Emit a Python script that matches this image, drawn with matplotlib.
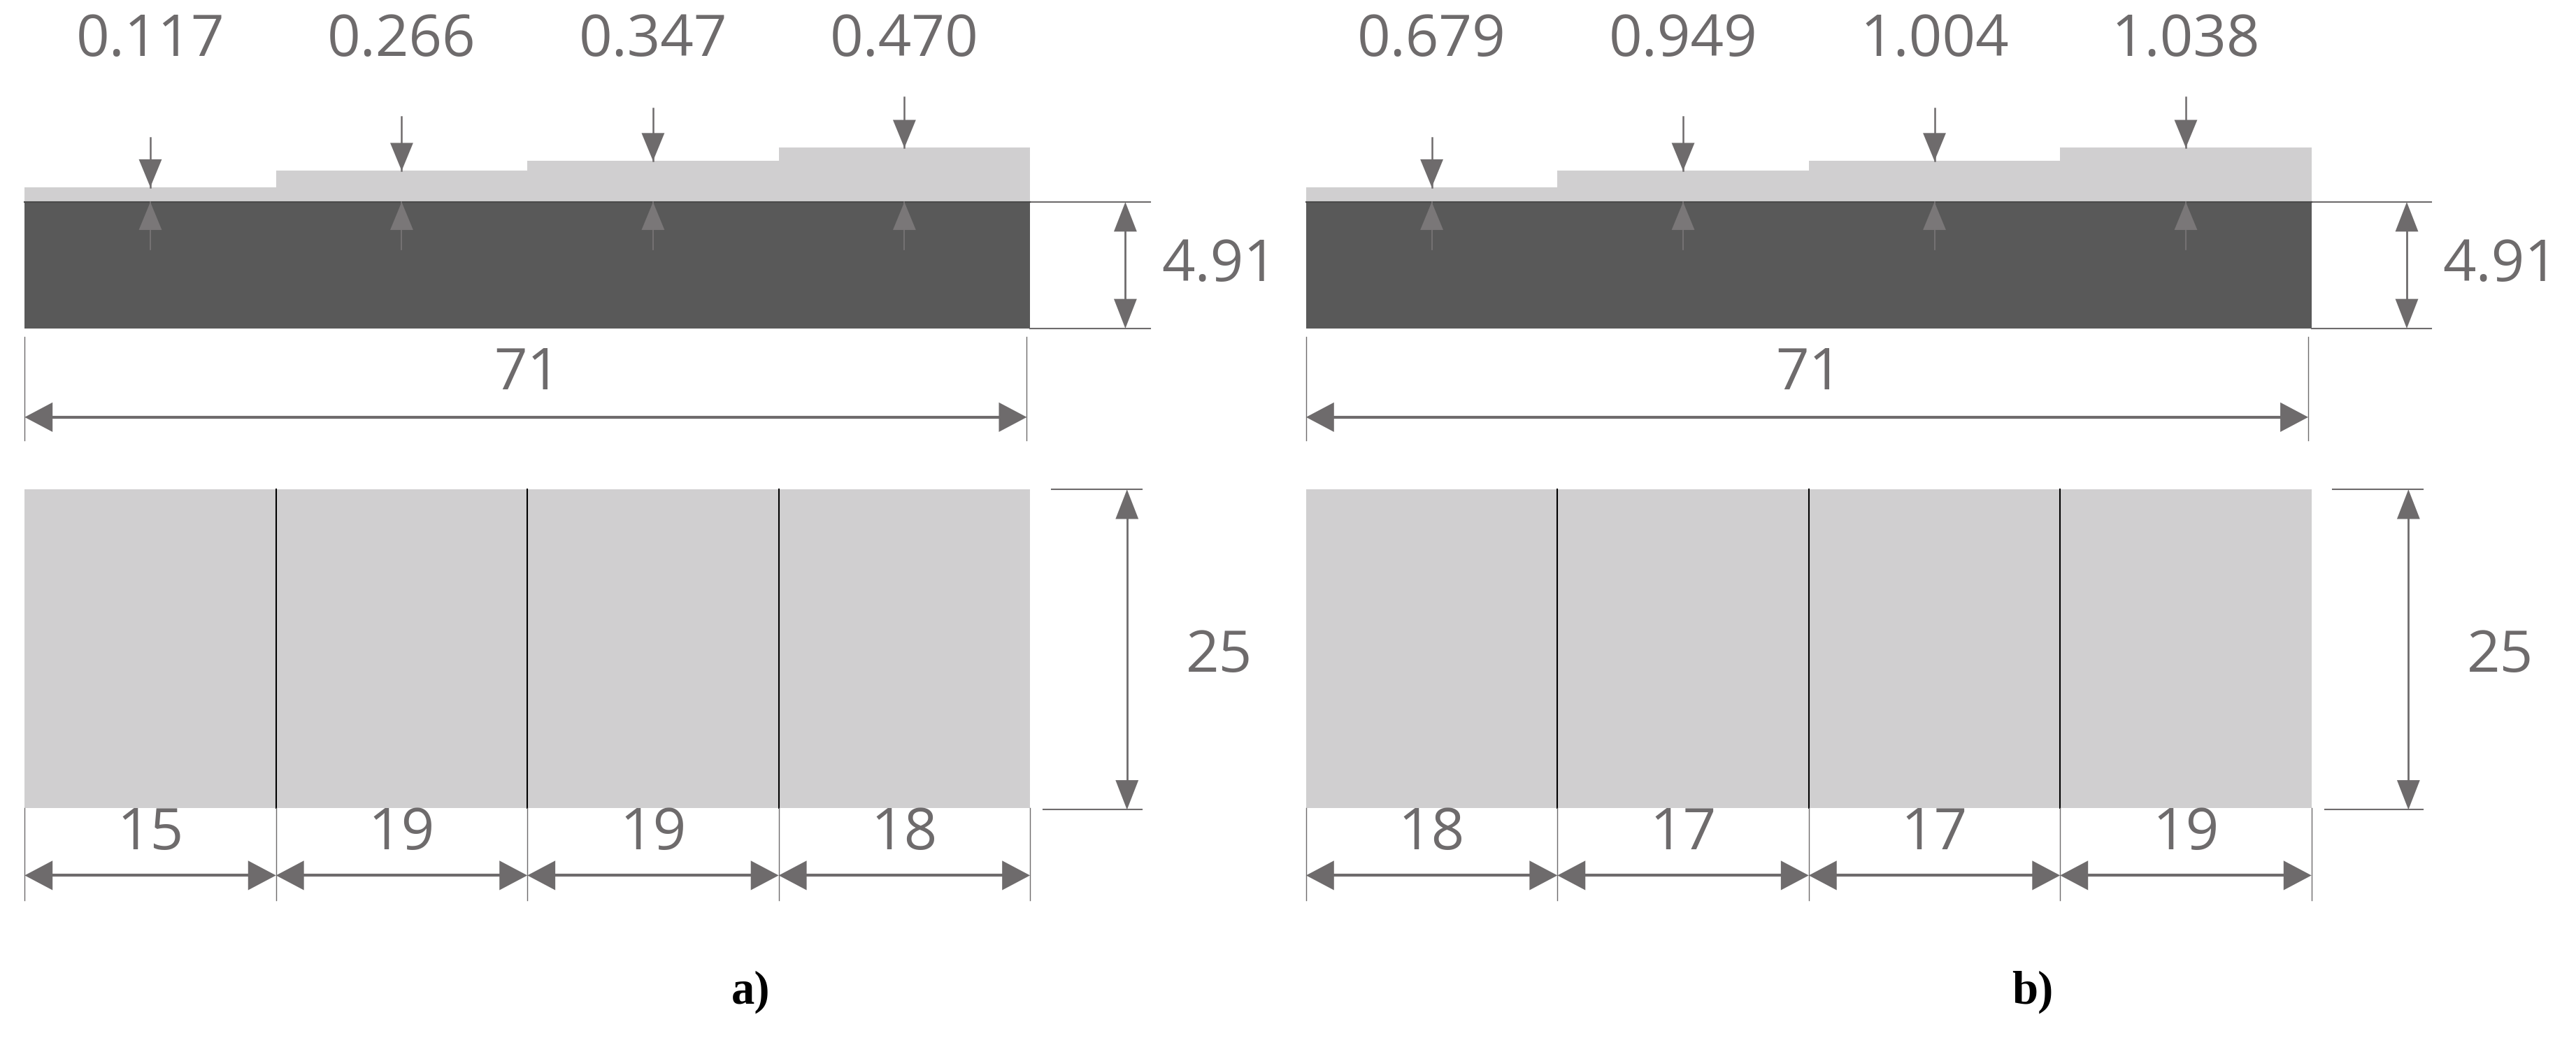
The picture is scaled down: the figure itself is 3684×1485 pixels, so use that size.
import matplotlib
matplotlib.use("Agg")
import matplotlib.pyplot as plt
from matplotlib.patches import Rectangle, Polygon

# ---- data ----
panels = ["a)", "b)"]
thickness_a = [0.117, 0.266, 0.347, 0.470]
thickness_b = [0.679, 0.949, 1.004, 1.038]
widths_a = [15, 19, 19, 18]
widths_b = [18, 17, 17, 19]
total_length = 71
substrate_h = 4.91
specimen_w = 25

GRAY = "#6e6b6c"
UPGRAY = "#7a7778"
DARK = "#595959"
LIGHT = "#d0cfd0"
FONT = "Open Sans"
FS = 60

fig = plt.figure(figsize=(36.84, 14.85), dpi=100)
ax = fig.add_axes([0, 0, 1, 1])
ax.set_xlim(0, 1568)
ax.set_ylim(632, 0)
ax.axis("off")

step_tops = [114, 104, 98, 90]
arrow_starts = [84, 71, 66, 59]

def head(x, y, d, L=14, W=7, horiz=False, color=GRAY):
    if horiz:
        pts = [(x, y), (x - d*L, y - W), (x - d*L, y + W)]
    else:
        pts = [(x, y), (x - W, y - d*L), (x + W, y - d*L)]
    ax.add_patch(Polygon(pts, closed=True, color=color, lw=0, zorder=5))

def hdim(x0, x1, y, lw=3):
    ax.plot([x0 + 6, x1 - 6], [y, y], color=GRAY, lw=lw, zorder=4)
    head(x0, y, -1, horiz=True, L=17, W=9)
    head(x1, y, 1, horiz=True, L=17, W=9)

def vdim(x, y0, y1):
    ax.plot([x, x], [y0 + 6, y1 - 6], color=GRAY, lw=2, zorder=4)
    head(x, y0, -1, L=18, W=7)
    head(x, y1, 1, L=18, W=7)

def panel(ox, thick, widths, label):
    n = len(thick)
    L = 612.0
    seg = L / n
    x0 = ox + 15
    for i, t in enumerate(thick):
        ax.add_patch(Rectangle((x0 + i*seg, step_tops[i]), seg, 123 - step_tops[i],
                               color=LIGHT, lw=0, zorder=1))
    ax.add_patch(Rectangle((x0, 123), L, 77, color=DARK, lw=0, zorder=2))
    ax.plot([x0, x0 + L], [123, 123], color="#4a4a4a", lw=1.5, zorder=3)
    for i, t in enumerate(thick):
        cx = x0 + (i + 0.5)*seg
        ax.plot([cx, cx], [arrow_starts[i], step_tops[i]], color=GRAY, lw=1.8, zorder=4)
        head(cx, step_tops[i], 1, L=17, W=7)
        ax.plot([cx, cx], [123, 152], color=UPGRAY, lw=1.2, zorder=4)
        head(cx, 123, -1, L=17, W=7, color=UPGRAY)
        ax.text(cx, 25, f"{t:.3f}", ha="center", va="center",
                fontsize=FS, color=GRAY, family=FONT)
    for y in (123, 200):
        ax.plot([x0 + L, x0 + L + 73], [y, y], color=GRAY, lw=1.5)
    vdim(x0 + L + 58, 123, 200)
    ax.text(x0 + L + 115, 162, f"{substrate_h:.2f}", ha="center", va="center",
            fontsize=FS, color=GRAY, family=FONT)
    for x in (x0, x0 + L - 2):
        ax.plot([x, x], [205, 268], color=GRAY, lw=1)
    hdim(x0, x0 + L - 2, 254)
    ax.text(x0 + L/2, 228, f"{total_length}", ha="center", va="center",
            fontsize=FS, color=GRAY, family=FONT)
    ax.add_patch(Rectangle((x0, 298), L, 194, color=LIGHT, lw=0, zorder=1))
    for i in range(1, n):
        ax.plot([x0 + i*seg]*2, [298, 492], color="black", lw=1.5, zorder=2)
    ax.plot([x0 + L + 13, x0 + L + 68], [298, 298], color=GRAY, lw=1.5)
    ax.plot([x0 + L + 8, x0 + L + 68], [493, 493], color=GRAY, lw=1.5)
    vdim(x0 + L + 59, 298, 493)
    ax.text(x0 + L + 115, 400, f"{specimen_w}", ha="center", va="center",
            fontsize=FS, color=GRAY, family=FONT)
    for i in range(n + 1):
        ax.plot([x0 + i*seg]*2, [492, 548], color=GRAY, lw=1)
    for i, w in enumerate(widths):
        hdim(x0 + i*seg, x0 + (i+1)*seg, 533)
        ax.text(x0 + (i+0.5)*seg, 508, f"{w}", ha="center", va="center",
                fontsize=FS, color=GRAY, family=FONT)
    ax.text(x0 + 442, 604, label, ha="center", va="center", fontsize=48,
            fontweight="bold", family="Liberation Serif", color="black")

panel(0, thickness_a, widths_a, panels[0])
panel(780, thickness_b, widths_b, panels[1])

fig.savefig("out.png", dpi=100)
